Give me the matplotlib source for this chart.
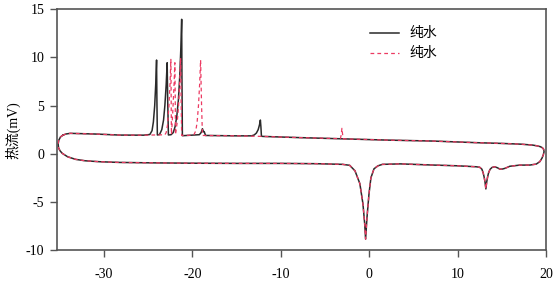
"""
DSC cooling / heating loop for pure water, two runs.
"""

import matplotlib
matplotlib.use("Agg")
import matplotlib.pyplot as plt

plt.rcParams["font.family"] = ["Liberation Serif", "Noto Sans CJK SC"]
plt.rcParams["font.size"] = 10
plt.rcParams["axes.unicode_minus"] = False

# shared part of the loop: left turn, heating branch, right turn
lower_T = [-34.6, -34.9, -35.1, -35.17, -35.12, -34.95, -34.7, -34.1, -33.2, -32.1, -30.4,
           -28.2, -24, -20, -15, -10, -6, -3, -2.2, -1.6, -1.05, -0.7, -0.5, -0.4, -0.25,
           -0.02, 0.2, 0.55, 1.0, 1.5, 3.5, 7.2, 10, 12.1, 12.5, 12.75, 12.9, 13.0, 13.1,
           13.2, 13.3, 13.4, 13.5, 13.67, 13.9, 14.2, 14.5, 14.8, 15.1, 15.4, 15.9, 17.0,
           18.2, 18.9, 19.3, 19.55, 19.7, 19.78, 19.74, 19.6, 19.35, 19.0, 18.5, 17.1, 14.8,
           12.5]
lower_V = [1.94, 1.75, 1.4, 1.0, 0.6, 0.3, 0.04, -0.31, -0.58, -0.73, -0.83,
           -0.9, -0.95, -0.98, -1.0, -1.0, -1.03, -1.1, -1.2, -1.77, -3.1, -5.2, -7.3, -8.86, -6.7,
           -4.2, -2.5, -1.56, -1.25, -1.1, -1.05, -1.17, -1.25, -1.35, -1.4, -1.6, -2.0, -2.4, -2.9,
           -3.65, -2.9, -2.4, -2.0, -1.62, -1.42, -1.35, -1.45, -1.6, -1.58, -1.5, -1.3, -1.18,
           -1.17, -1.07, -0.82, -0.45, -0.1, 0.2, 0.45, 0.62, 0.74, 0.82, 0.9, 1.0, 1.08,
           1.14]

# cooling branch, run 1 (black)
black_up_T = [7.2, 2, -3, -8, -12.0, -12.18, -12.24, -12.3, -12.4, -12.55, -12.75, -13.0, -13.3,
              -15, -18.5, -18.65, -18.75, -18.85, -19.0, -19.2, -21.0, -21.12, -21.17, -21.2,
              -21.3, -21.42, -21.57, -21.75, -21.95, -22.15, -22.4, -22.7, -22.78, -22.84,
              -22.95, -23.1, -23.25, -23.45, -23.7, -23.95, -24.0, -24.04, -24.13, -24.25,
              -24.4, -24.55, -24.8, -25.5, -28.2, -31, -33.8, -34.3, -34.6]
black_up_V = [1.32, 1.42, 1.55, 1.68, 1.8, 1.82, 2.8, 3.5, 3.0, 2.5, 2.15, 1.95, 1.86,
              1.86, 1.9, 2.3, 2.3, 2.6, 2.2, 1.98, 1.88, 1.88, 8.0, 13.96,
              10.8, 8.0, 5.6, 3.9, 2.8, 2.2, 1.98, 1.95, 5.5, 9.45,
              7.2, 5.0, 3.5, 2.5, 2.0, 1.95, 5.5, 9.73, 7.3, 5.0,
              3.3, 2.4, 2.0, 1.93, 1.94, 2.05, 2.12, 2.05, 1.94]

# cooling branch, run 2 (red)
red_up_T = [7.2, 2, -2.9, -3.0, -3.08, -3.15, -3.25, -8, -12.0, -15, -18.85, -18.95, -19.06,
            -19.17, -19.3, -19.45, -19.6, -19.8, -20.2, -21.2, -21.27, -21.32, -21.43, -21.55,
            -21.7, -21.9, -21.93, -21.97, -22.07, -22.2, -22.3, -22.36, -22.39, -22.42, -22.52,
            -22.65, -22.8, -22.95, -23.1, -25.5, -28.2, -31, -33.8, -34.3, -34.6]
red_up_V = [1.32, 1.42, 1.55, 2.0, 2.64, 2.0, 1.57, 1.68, 1.8, 1.86, 1.9, 5.0, 9.73,
            7.2, 5.0, 3.3, 2.4, 2.0, 1.92, 1.9, 6.0, 9.94, 7.3, 5.0,
            3.3, 2.0, 6.0, 9.45, 7.0, 4.5, 2.8, 2.0, 6.0, 9.8, 7.2,
            4.8, 3.0, 2.2, 1.97, 1.93, 1.94, 2.05, 2.12, 2.05, 1.94]

labels = ["纯水", "纯水"]
x_ticks = [-30, -20, -10, 0, 10, 20]
y_ticks = [-10, -5, 0, 5, 10, 15]


def main():
    fig = plt.figure(figsize=(5.56, 2.81), dpi=100)
    ax = fig.add_axes([0.1025, 0.11, 0.8795, 0.857])

    ax.plot(lower_T + black_up_T, lower_V + black_up_V, color="#2a2a2a", lw=1.1,
            label=labels[0])
    ax.plot(lower_T + red_up_T, lower_V + red_up_V, color="#ec3a62", lw=0.9,
            dashes=(3, 2.5), label=labels[1])

    ax.set_xlim(-35.3, 20)
    ax.set_ylim(-10, 15)
    ax.set_xticks(x_ticks)
    ax.set_yticks(y_ticks)
    ax.set_ylabel("热流(mV)", labelpad=4)

    for s in ax.spines.values():
        s.set_color("#555555")
        s.set_linewidth(1.2)
    ax.tick_params(axis="x", direction="out", length=5, width=1, color="#555555", pad=8)
    ax.tick_params(axis="y", direction="out", length=5, width=1, color="#555555", pad=4)

    ax.legend(loc="upper left", bbox_to_anchor=(0.628, 0.948), frameon=False,
              handlelength=2.1, handletextpad=0.75, borderaxespad=0)

    fig.savefig("out.png", dpi=100)
    plt.close(fig)


if __name__ == "__main__":
    main()
